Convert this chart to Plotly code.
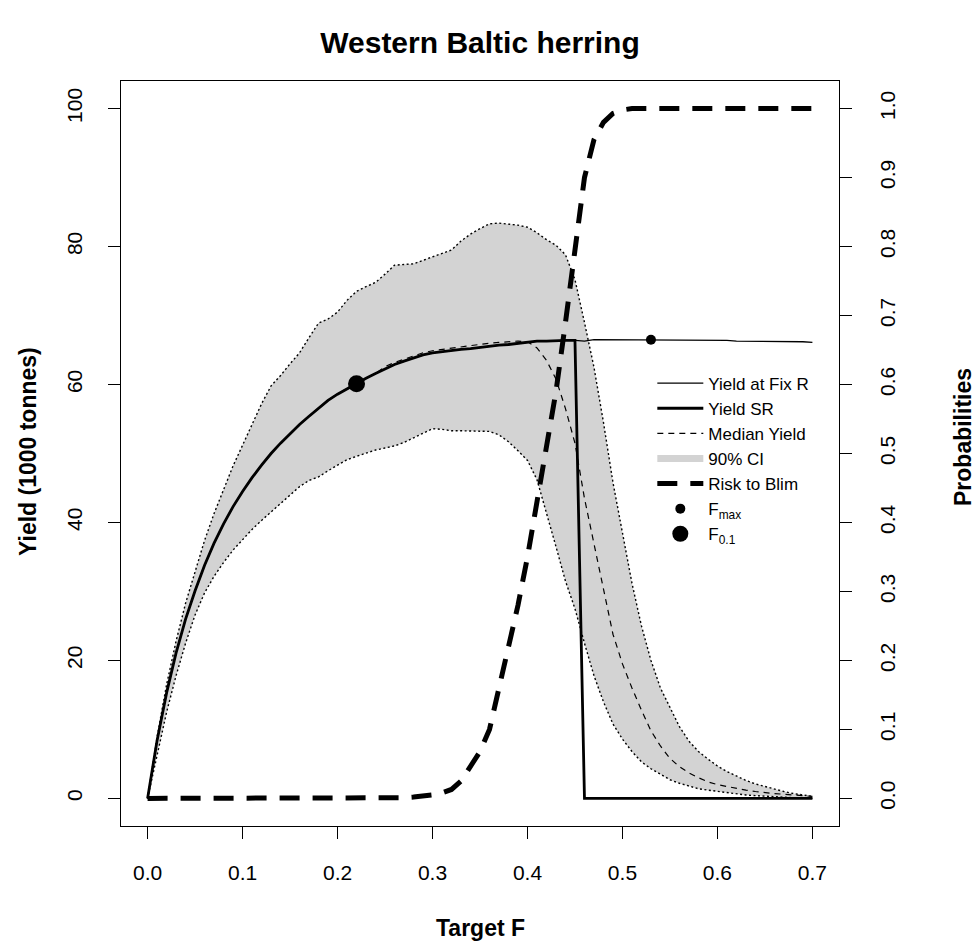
import plotly.graph_objects as go

# Fishing mortality grid (target F)
target_f = [0.00, 0.01, 0.02, 0.03, 0.04, 0.05, 0.06, 0.07, 0.08, 0.09,
            0.10, 0.11, 0.12, 0.13, 0.14, 0.15, 0.16, 0.17, 0.18, 0.19,
            0.20, 0.21, 0.22, 0.23, 0.24, 0.25, 0.26, 0.27, 0.28, 0.29,
            0.30, 0.31, 0.32, 0.33, 0.34, 0.35, 0.36, 0.37, 0.38, 0.39,
            0.40, 0.41, 0.42, 0.43, 0.44, 0.45, 0.46, 0.47, 0.48, 0.49,
            0.50, 0.51, 0.52, 0.53, 0.54, 0.55, 0.56, 0.57, 0.58, 0.59,
            0.60, 0.61, 0.62, 0.63, 0.64, 0.65, 0.66, 0.67, 0.68, 0.69,
            0.70]

# Yield with stock-recruitment (1000 tonnes)
yield_sr = [0.0, 8.4, 15.3, 21.1, 26.0, 30.1, 33.8, 37.0, 39.8, 42.3,
            44.5, 46.5, 48.3, 50.0, 51.5, 52.9, 54.2, 55.4, 56.6, 57.7,
            58.6, 59.4, 60.1, 60.9, 61.6, 62.3, 62.9, 63.4, 63.9, 64.3,
            64.6, 64.8, 65.0, 65.1, 65.2, 65.4, 65.6, 65.7, 65.8, 66.0,
            66.2, 66.3, 66.3, 66.4, 66.4, 66.4, 0.0, 0.0, 0.0, 0.0,
            0.0, 0.0, 0.0, 0.0, 0.0, 0.0, 0.0, 0.0, 0.0, 0.0,
            0.0, 0.0, 0.0, 0.0, 0.0, 0.0, 0.0, 0.0, 0.0, 0.0,
            0.0]

# Yield at fixed recruitment (1000 tonnes)
yield_fix_r = [0.0, 8.4, 15.3, 21.1, 26.0, 30.1, 33.8, 37.0, 39.8, 42.3,
               44.5, 46.5, 48.3, 50.0, 51.5, 52.9, 54.2, 55.4, 56.6, 57.7,
               58.6, 59.4, 60.1, 60.9, 61.6, 62.3, 62.9, 63.4, 63.9, 64.3,
               64.6, 64.8, 65.0, 65.1, 65.2, 65.4, 65.6, 65.7, 65.8, 66.0,
               66.2, 66.3, 66.3, 66.4, 66.4, 66.4, 66.3, 66.5, 66.5, 66.5,
               66.5, 66.5, 66.5, 66.5, 66.5, 66.5, 66.5, 66.5, 66.5, 66.5,
               66.5, 66.4, 66.3, 66.3, 66.3, 66.3, 66.3, 66.2, 66.2, 66.2,
               66.1]

# Median simulated yield (1000 tonnes)
yield_median = [0.0, 8.4, 15.3, 21.1, 26.0, 30.1, 33.8, 37.0, 39.8, 42.3,
                44.5, 46.5, 48.3, 50.0, 51.5, 52.9, 54.2, 55.4, 56.6, 57.7,
                58.6, 59.4, 60.1, 60.9, 61.6, 62.6, 63.2, 63.7, 64.2, 64.6,
                64.9, 65.1, 65.3, 65.5, 65.7, 65.9, 66.0, 66.1, 66.2, 66.3,
                66.2, 65.3, 63.5, 60.8, 56.5, 51.5, 43.5, 37.0, 30.0, 23.8,
                19.5, 16.0, 12.8, 9.8, 7.6, 5.8, 4.6, 3.7, 3.0, 2.4,
                2.0, 1.7, 1.4, 1.2, 1.0, 0.8, 0.7, 0.6, 0.5, 0.4,
                0.3]

# 90% confidence interval of yield (1000 tonnes)
ci_lower = [0.0, 6.5, 12.5, 17.8, 22.5, 26.6, 29.8, 32.2, 34.2, 36.0,
            37.5, 39.0, 40.3, 41.5, 42.8, 44.0, 45.2, 46.1, 46.6, 47.5,
            48.3, 49.1, 49.6, 50.1, 50.5, 50.8, 51.1, 51.6, 52.3, 53.0,
            53.6, 53.5, 53.3, 53.3, 53.3, 53.3, 53.2, 52.7, 51.7, 50.4,
            49.0, 46.2, 41.5, 36.5, 31.5, 27.5, 22.5, 17.8, 14.0, 10.8,
            8.6, 6.8, 5.3, 4.3, 3.5, 2.7, 2.2, 1.8, 1.4, 1.2,
            1.0, 0.8, 0.7, 0.5, 0.4, 0.3, 0.2, 0.15, 0.1, 0.05,
            0.0]
ci_upper = [0.0, 8.9, 16.5, 22.8, 28.3, 33.0, 37.4, 41.3, 44.8, 48.2,
            51.2, 54.3, 57.2, 59.8, 61.3, 63.0, 64.6, 66.8, 68.9, 69.5,
            70.5, 72.2, 73.5, 74.2, 74.8, 76.0, 77.3, 77.4, 77.5, 78.0,
            78.5, 79.0, 79.5, 80.8, 81.8, 82.6, 83.3, 83.4, 83.3, 83.1,
            82.8, 82.0, 81.0, 80.2, 78.8, 75.2, 69.0, 62.5, 54.5, 45.8,
            38.5, 31.2, 25.0, 20.0, 16.0, 13.2, 10.4, 8.3, 6.8, 5.7,
            4.7, 3.9, 3.2, 2.6, 2.1, 1.7, 1.3, 1.0, 0.7, 0.5,
            0.3]

# Probability of SSB falling below Blim
risk_blim = [0.0, 0.0, 0.0, 0.0, 0.0, 0.0, 0.0, 0.0, 0.0, 0.0,
             0.0, 0.0, 0.0, 0.0, 0.0, 0.0, 0.0, 0.0, 0.0, 0.0,
             0.0, 0.0, 0.0, 0.0, 0.0, 0.0, 0.0, 0.001, 0.002, 0.003,
             0.005, 0.008, 0.013, 0.025, 0.045, 0.068, 0.10, 0.16, 0.22, 0.28,
             0.35, 0.43, 0.51, 0.59, 0.69, 0.80, 0.90, 0.955, 0.98, 0.993,
             0.998, 1.0, 1.0, 1.0, 1.0, 1.0, 1.0, 1.0, 1.0, 1.0,
             1.0, 1.0, 1.0, 1.0, 1.0, 1.0, 1.0, 1.0, 1.0, 1.0,
             1.0]

# Reference points
f_max = [0.53]
yield_at_f_max = [66.5]
f_01 = [0.22]
yield_at_f_01 = [60.1]

# Axis ticks
x_ticks = [0.0, 0.1, 0.2, 0.3, 0.4, 0.5, 0.6, 0.7]
x_tick_text = ["0.0", "0.1", "0.2", "0.3", "0.4", "0.5", "0.6", "0.7"]
yield_ticks = [0, 20, 40, 60, 80, 100]
prob_ticks = [0.0, 0.1, 0.2, 0.3, 0.4, 0.5, 0.6, 0.7, 0.8, 0.9, 1.0]
prob_tick_text = ["0.0", "0.1", "0.2", "0.3", "0.4", "0.5",
                  "0.6", "0.7", "0.8", "0.9", "1.0"]

FONT = "Liberation Sans, Arial, Helvetica, sans-serif"
GREY = "#D3D3D3"

fig = go.Figure()

# 90% CI band with dotted borders
fig.add_trace(go.Scatter(
    x=target_f, y=ci_lower, mode="lines",
    line=dict(color="black", width=1.4, dash="2px,2.5px"),
    showlegend=False, hoverinfo="skip"))
fig.add_trace(go.Scatter(
    x=target_f, y=ci_upper, mode="lines", fill="tonexty", fillcolor=GREY,
    line=dict(color="black", width=1.4, dash="2px,2.5px"),
    showlegend=False, hoverinfo="skip"))

# Yield curves
fig.add_trace(go.Scatter(
    x=target_f, y=yield_fix_r, mode="lines", name="Yield at Fix R",
    line=dict(color="black", width=1.3), legendrank=1))
fig.add_trace(go.Scatter(
    x=target_f, y=yield_sr, mode="lines", name="Yield SR",
    line=dict(color="black", width=2.8), legendrank=2))
fig.add_trace(go.Scatter(
    x=target_f, y=yield_median, mode="lines", name="Median Yield",
    line=dict(color="black", width=1.2, dash="6px,5px"), legendrank=3))

# Legend key for the CI band
fig.add_trace(go.Scatter(
    x=[None], y=[None], mode="lines", name="90% CI",
    line=dict(color=GREY, width=7), legendrank=4))

# Risk to Blim on the secondary axis
fig.add_trace(go.Scatter(
    x=target_f, y=risk_blim, mode="lines", name="Risk to Blim", yaxis="y2",
    line=dict(color="black", width=5, dash="20px,13px"), legendrank=5))

# Reference points
fig.add_trace(go.Scatter(
    x=f_max, y=yield_at_f_max, mode="markers", name="F<sub>max</sub>",
    marker=dict(color="black", size=10), legendrank=6))
fig.add_trace(go.Scatter(
    x=f_01, y=yield_at_f_01, mode="markers", name="F<sub>0.1</sub>",
    marker=dict(color="black", size=17), legendrank=7))

axis_common = dict(
    showgrid=False, zeroline=False, showline=True, linecolor="black",
    linewidth=1, ticks="outside", ticklen=12, tickwidth=1, tickcolor="black",
    tickfont=dict(family=FONT, size=21, color="black"))

fig.update_layout(
    width=978, height=947,
    margin=dict(l=121, r=139, t=81, b=121, autoexpand=False),
    paper_bgcolor="white", plot_bgcolor="white",
    font=dict(family=FONT, color="black"),
    title=dict(text="<b>Western Baltic herring</b>", x=0.5, xref="paper",
               xanchor="center", y=1 - 42 / 947, yref="container",
               yanchor="middle", font=dict(family=FONT, size=30, color="black")),
    xaxis=dict(range=[-0.028, 0.728], tickvals=x_ticks, ticktext=x_tick_text,
               mirror=True, ticklabelstandoff=16, **axis_common),
    yaxis=dict(range=[-4, 104], tickvals=yield_ticks, tickangle=-90,
               ticklabelstandoff=18, **axis_common),
    yaxis2=dict(range=[-0.04, 1.04], tickvals=prob_ticks,
                ticktext=prob_tick_text, tickangle=-90, overlaying="y",
                side="right", ticklabelstandoff=18, **axis_common),
    legend=dict(x=0.74, y=0.618, xanchor="left", yanchor="top",
                traceorder="normal",
                bgcolor="rgba(0,0,0,0)", borderwidth=0,
                font=dict(family=FONT, size=17, color="black"),
                itemwidth=46, tracegroupgap=0, itemsizing="trace"),
    annotations=[
        dict(text="<b>Target F</b>", x=0.5, y=(826 - 928) / 745,
             xref="paper", yref="paper", showarrow=False,
             xanchor="center", yanchor="middle",
             font=dict(family=FONT, size=23, color="black")),
        dict(text="<b>Yield (1000 tonnes)</b>", x=(28 - 121) / 718,
             y=(826 - 452) / 745, xref="paper", yref="paper",
             showarrow=False, textangle=-90, xanchor="center",
             yanchor="middle", font=dict(family=FONT, size=23, color="black")),
        dict(text="<b>Probabilities</b>", x=(963 - 121) / 718,
             y=(826 - 437) / 745, xref="paper", yref="paper",
             showarrow=False, textangle=-90, xanchor="center",
             yanchor="middle", font=dict(family=FONT, size=23, color="black")),
    ],
)

fig.write_html("out.html")
